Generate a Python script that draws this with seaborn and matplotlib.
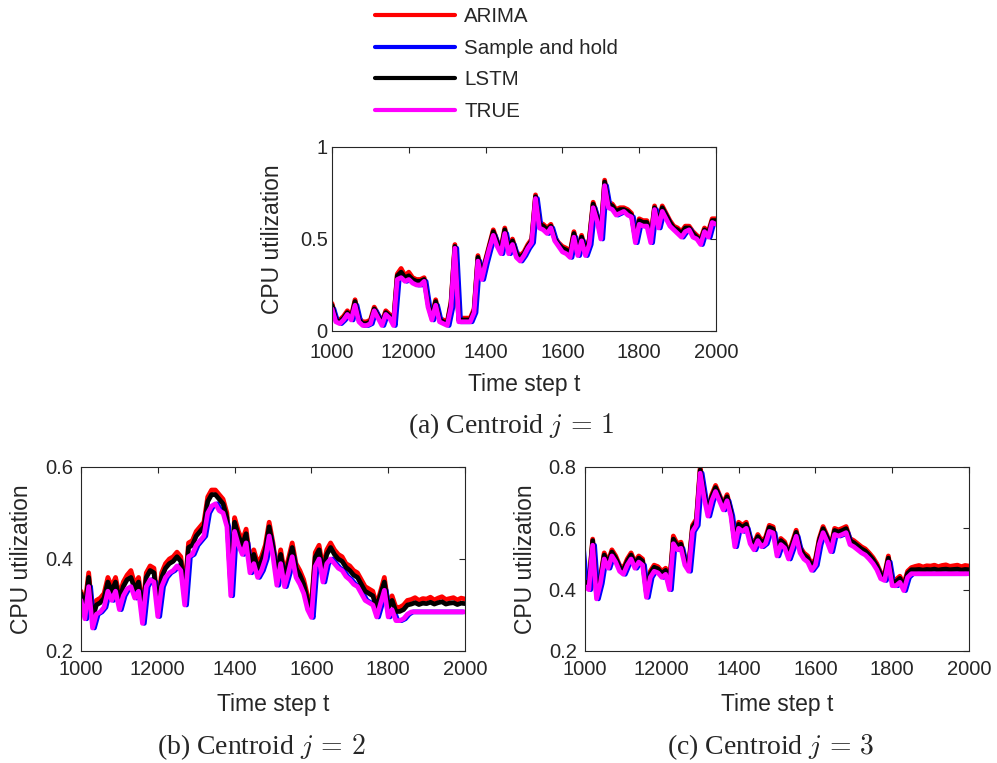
import matplotlib
matplotlib.use("Agg")
import matplotlib.pyplot as plt
import numpy as np
import pandas as pd
import seaborn as sns

# ---------------- data (one value every 10 steps) ----------------
time_steps = list(range(1000, 2001, 10))
# sample-and-hold readings lag the true trace by a few steps
hold_steps = list(range(995, 1996, 10))
x_ticks = [1000, 1200, 1400, 1600, 1800, 2000]
x_tick_labels = ["1000", "12000", "1400", "1600", "1800", "2000"]
methods = ["ARIMA", "Sample and hold", "LSTM", "TRUE"]

# (a) Centroid j = 1
true_a = [0.12, 0.05, 0.04, 0.06, 0.09, 0.06, 0.14, 0.05, 0.03, 0.03,
          0.04, 0.11, 0.07, 0.03, 0.09, 0.07, 0.03, 0.28, 0.29, 0.27,
          0.28, 0.26, 0.25, 0.25, 0.27, 0.13, 0.06, 0.14, 0.05, 0.04,
          0.03, 0.13, 0.45, 0.05, 0.05, 0.05, 0.05, 0.10, 0.38, 0.28,
          0.37, 0.45, 0.52, 0.46, 0.42, 0.53, 0.42, 0.47, 0.40, 0.38,
          0.41, 0.45, 0.48, 0.72, 0.56, 0.55, 0.53, 0.56, 0.49, 0.46,
          0.43, 0.42, 0.40, 0.51, 0.41, 0.49, 0.41, 0.47, 0.67, 0.60,
          0.50, 0.79, 0.67, 0.66, 0.63, 0.64, 0.65, 0.63, 0.62, 0.48,
          0.58, 0.57, 0.57, 0.48, 0.66, 0.56, 0.65, 0.61, 0.57, 0.55,
          0.53, 0.51, 0.54, 0.55, 0.51, 0.50, 0.47, 0.54, 0.51, 0.59,
          0.58]
arima_a = [0.15, 0.07, 0.06, 0.08, 0.11, 0.08, 0.17, 0.07, 0.05, 0.05,
           0.06, 0.13, 0.09, 0.05, 0.11, 0.09, 0.05, 0.31, 0.34, 0.30,
           0.32, 0.29, 0.28, 0.28, 0.29, 0.16, 0.08, 0.17, 0.07, 0.06,
           0.05, 0.16, 0.47, 0.07, 0.07, 0.07, 0.07, 0.12, 0.41, 0.31,
           0.39, 0.47, 0.55, 0.49, 0.45, 0.56, 0.45, 0.50, 0.43, 0.41,
           0.43, 0.47, 0.50, 0.74, 0.59, 0.58, 0.56, 0.58, 0.51, 0.48,
           0.46, 0.45, 0.43, 0.54, 0.44, 0.52, 0.44, 0.50, 0.70, 0.63,
           0.53, 0.82, 0.70, 0.69, 0.66, 0.67, 0.67, 0.66, 0.64, 0.51,
           0.61, 0.60, 0.60, 0.51, 0.68, 0.59, 0.68, 0.64, 0.60, 0.57,
           0.56, 0.54, 0.57, 0.57, 0.54, 0.52, 0.50, 0.56, 0.54, 0.61,
           0.61]
lstm_a = [0.14, 0.06, 0.05, 0.07, 0.10, 0.07, 0.16, 0.06, 0.04, 0.04,
          0.05, 0.12, 0.08, 0.04, 0.10, 0.08, 0.04, 0.30, 0.32, 0.29,
          0.30, 0.28, 0.27, 0.27, 0.28, 0.15, 0.07, 0.16, 0.06, 0.05,
          0.04, 0.15, 0.46, 0.06, 0.06, 0.06, 0.06, 0.11, 0.40, 0.30,
          0.38, 0.46, 0.54, 0.48, 0.44, 0.55, 0.44, 0.49, 0.42, 0.40,
          0.42, 0.46, 0.49, 0.73, 0.58, 0.57, 0.55, 0.57, 0.50, 0.47,
          0.45, 0.44, 0.42, 0.53, 0.43, 0.51, 0.43, 0.49, 0.69, 0.62,
          0.52, 0.81, 0.69, 0.68, 0.65, 0.66, 0.66, 0.65, 0.63, 0.50,
          0.60, 0.59, 0.59, 0.50, 0.67, 0.58, 0.67, 0.63, 0.59, 0.56,
          0.55, 0.53, 0.56, 0.56, 0.53, 0.51, 0.49, 0.55, 0.53, 0.60,
          0.60]
hold_a = [0.12, 0.12, 0.05, 0.04, 0.06, 0.09, 0.06, 0.14, 0.05, 0.03,
          0.03, 0.04, 0.11, 0.07, 0.03, 0.09, 0.07, 0.03, 0.28, 0.29,
          0.27, 0.28, 0.26, 0.25, 0.25, 0.27, 0.13, 0.06, 0.14, 0.05,
          0.04, 0.03, 0.13, 0.45, 0.05, 0.05, 0.05, 0.05, 0.10, 0.38,
          0.28, 0.37, 0.45, 0.52, 0.46, 0.42, 0.53, 0.42, 0.47, 0.40,
          0.38, 0.41, 0.45, 0.48, 0.72, 0.56, 0.55, 0.53, 0.56, 0.49,
          0.46, 0.43, 0.42, 0.40, 0.51, 0.41, 0.49, 0.41, 0.47, 0.67,
          0.60, 0.50, 0.79, 0.67, 0.66, 0.63, 0.64, 0.65, 0.63, 0.62,
          0.48, 0.58, 0.57, 0.57, 0.48, 0.66, 0.56, 0.65, 0.61, 0.57,
          0.55, 0.53, 0.51, 0.54, 0.55, 0.51, 0.50, 0.47, 0.54, 0.51,
          0.59]

# (b) Centroid j = 2
true_b = [0.31, 0.27, 0.34, 0.25, 0.28, 0.285, 0.295, 0.33, 0.31, 0.33,
          0.29, 0.32, 0.335, 0.34, 0.315, 0.33, 0.26, 0.34, 0.355, 0.35,
          0.275, 0.34, 0.36, 0.37, 0.375, 0.385, 0.375, 0.30, 0.405, 0.41,
          0.43, 0.44, 0.45, 0.50, 0.515, 0.52, 0.505, 0.50, 0.47, 0.32,
          0.46, 0.43, 0.41, 0.435, 0.37, 0.39, 0.36, 0.375, 0.40, 0.45,
          0.405, 0.343, 0.39, 0.34, 0.37, 0.405, 0.36, 0.345, 0.325, 0.29,
          0.273, 0.384, 0.40, 0.35, 0.39, 0.40, 0.39, 0.38, 0.375, 0.362,
          0.355, 0.345, 0.34, 0.325, 0.31, 0.305, 0.30, 0.274, 0.303, 0.332,
          0.274, 0.29, 0.266, 0.266, 0.27, 0.28, 0.285, 0.285, 0.285, 0.285,
          0.285, 0.285, 0.285, 0.285, 0.285, 0.285, 0.285, 0.285, 0.285, 0.285,
          0.285]
arima_b = [0.33, 0.30, 0.37, 0.28, 0.31, 0.315, 0.325, 0.36, 0.34, 0.36,
           0.32, 0.35, 0.365, 0.375, 0.345, 0.36, 0.29, 0.37, 0.385, 0.38,
           0.305, 0.37, 0.39, 0.40, 0.405, 0.415, 0.405, 0.33, 0.435, 0.44,
           0.46, 0.47, 0.48, 0.535, 0.55, 0.55, 0.54, 0.53, 0.50, 0.35,
           0.49, 0.46, 0.44, 0.465, 0.40, 0.42, 0.39, 0.405, 0.43, 0.48,
           0.435, 0.373, 0.42, 0.37, 0.40, 0.435, 0.39, 0.375, 0.355, 0.32,
           0.30, 0.414, 0.43, 0.38, 0.42, 0.435, 0.42, 0.41, 0.405, 0.39,
           0.385, 0.375, 0.37, 0.355, 0.34, 0.335, 0.33, 0.30, 0.33, 0.36,
           0.30, 0.32, 0.295, 0.295, 0.30, 0.31, 0.312, 0.316, 0.31, 0.314,
           0.313, 0.317, 0.311, 0.315, 0.318, 0.312, 0.314, 0.316, 0.311, 0.315,
           0.313]
lstm_b = [0.325, 0.29, 0.36, 0.27, 0.30, 0.305, 0.315, 0.35, 0.33, 0.35,
          0.31, 0.34, 0.355, 0.36, 0.335, 0.35, 0.28, 0.36, 0.375, 0.37,
          0.295, 0.36, 0.38, 0.39, 0.395, 0.405, 0.395, 0.32, 0.425, 0.43,
          0.45, 0.46, 0.47, 0.525, 0.54, 0.54, 0.53, 0.52, 0.49, 0.34,
          0.48, 0.45, 0.43, 0.455, 0.39, 0.41, 0.38, 0.395, 0.42, 0.47,
          0.425, 0.363, 0.41, 0.36, 0.39, 0.425, 0.38, 0.365, 0.345, 0.31,
          0.293, 0.404, 0.42, 0.37, 0.41, 0.425, 0.41, 0.40, 0.395, 0.382,
          0.375, 0.365, 0.36, 0.345, 0.33, 0.325, 0.32, 0.294, 0.323, 0.35,
          0.294, 0.31, 0.286, 0.286, 0.29, 0.30, 0.302, 0.305, 0.301, 0.304,
          0.303, 0.306, 0.302, 0.305, 0.307, 0.302, 0.304, 0.305, 0.301, 0.304,
          0.303]
hold_b = [0.31, 0.31, 0.27, 0.34, 0.25, 0.28, 0.285, 0.295, 0.33, 0.31,
          0.33, 0.29, 0.32, 0.335, 0.34, 0.315, 0.33, 0.26, 0.34, 0.355,
          0.35, 0.275, 0.34, 0.36, 0.37, 0.375, 0.385, 0.375, 0.30, 0.405,
          0.41, 0.43, 0.44, 0.45, 0.50, 0.515, 0.52, 0.505, 0.50, 0.47,
          0.32, 0.46, 0.43, 0.41, 0.435, 0.37, 0.39, 0.36, 0.375, 0.40,
          0.45, 0.405, 0.343, 0.39, 0.34, 0.37, 0.405, 0.36, 0.345, 0.325,
          0.29, 0.273, 0.384, 0.40, 0.35, 0.39, 0.40, 0.39, 0.38, 0.375,
          0.362, 0.355, 0.345, 0.34, 0.325, 0.31, 0.305, 0.30, 0.274, 0.303,
          0.332, 0.274, 0.29, 0.266, 0.266, 0.27, 0.28, 0.285, 0.285, 0.285,
          0.285, 0.285, 0.285, 0.285, 0.285, 0.285, 0.285, 0.285, 0.285, 0.285,
          0.285]

# (c) Centroid j = 3
true_c = [0.41, 0.40, 0.545, 0.37, 0.42, 0.50, 0.47, 0.51, 0.49, 0.46,
          0.45, 0.48, 0.50, 0.47, 0.49, 0.48, 0.375, 0.44, 0.46, 0.455,
          0.44, 0.45, 0.40, 0.55, 0.53, 0.535, 0.48, 0.46, 0.59, 0.61,
          0.78, 0.70, 0.64, 0.69, 0.72, 0.69, 0.66, 0.69, 0.64, 0.54,
          0.60, 0.59, 0.60, 0.55, 0.53, 0.56, 0.54, 0.55, 0.59, 0.585,
          0.51, 0.547, 0.536, 0.50, 0.536, 0.574, 0.52, 0.50, 0.49, 0.463,
          0.48, 0.547, 0.586, 0.558, 0.524, 0.58, 0.575, 0.58, 0.586, 0.547,
          0.54, 0.53, 0.52, 0.513, 0.50, 0.485, 0.465, 0.436, 0.43, 0.49,
          0.413, 0.413, 0.424, 0.397, 0.44, 0.452, 0.452, 0.452, 0.452, 0.452,
          0.452, 0.452, 0.452, 0.452, 0.452, 0.452, 0.452, 0.452, 0.452, 0.452,
          0.452]
arima_c = [0.43, 0.42, 0.565, 0.39, 0.44, 0.52, 0.49, 0.53, 0.51, 0.48,
           0.47, 0.50, 0.52, 0.49, 0.51, 0.50, 0.395, 0.46, 0.48, 0.475,
           0.46, 0.47, 0.42, 0.575, 0.55, 0.555, 0.50, 0.48, 0.61, 0.63,
           0.80, 0.72, 0.66, 0.71, 0.74, 0.71, 0.68, 0.71, 0.66, 0.56,
           0.62, 0.61, 0.62, 0.57, 0.55, 0.58, 0.56, 0.57, 0.61, 0.605,
           0.53, 0.567, 0.556, 0.52, 0.556, 0.594, 0.54, 0.52, 0.51, 0.483,
           0.50, 0.567, 0.606, 0.578, 0.544, 0.60, 0.595, 0.60, 0.606, 0.567,
           0.56, 0.55, 0.54, 0.533, 0.52, 0.505, 0.485, 0.456, 0.45, 0.51,
           0.433, 0.433, 0.444, 0.417, 0.46, 0.472, 0.476, 0.479, 0.474, 0.478,
           0.477, 0.480, 0.475, 0.479, 0.481, 0.476, 0.478, 0.480, 0.475, 0.479,
           0.477]
lstm_c = [0.425, 0.415, 0.56, 0.383, 0.433, 0.513, 0.483, 0.523, 0.503, 0.473,
          0.463, 0.493, 0.513, 0.483, 0.503, 0.493, 0.388, 0.453, 0.473, 0.468,
          0.453, 0.463, 0.413, 0.565, 0.543, 0.548, 0.493, 0.473, 0.603, 0.623,
          0.79, 0.713, 0.653, 0.703, 0.733, 0.703, 0.673, 0.703, 0.653, 0.553,
          0.613, 0.603, 0.613, 0.563, 0.543, 0.573, 0.553, 0.563, 0.603, 0.598,
          0.523, 0.56, 0.549, 0.513, 0.549, 0.587, 0.533, 0.513, 0.503, 0.476,
          0.493, 0.56, 0.599, 0.571, 0.537, 0.593, 0.588, 0.593, 0.599, 0.56,
          0.553, 0.543, 0.533, 0.526, 0.513, 0.498, 0.478, 0.449, 0.443, 0.503,
          0.426, 0.426, 0.437, 0.41, 0.453, 0.465, 0.465, 0.466, 0.464, 0.466,
          0.465, 0.467, 0.464, 0.466, 0.467, 0.465, 0.466, 0.467, 0.464, 0.466,
          0.465]
hold_c = [0.55, 0.41, 0.40, 0.545, 0.37, 0.42, 0.50, 0.47, 0.51, 0.49,
          0.46, 0.45, 0.48, 0.50, 0.47, 0.49, 0.48, 0.375, 0.44, 0.46,
          0.455, 0.44, 0.45, 0.40, 0.55, 0.53, 0.535, 0.48, 0.46, 0.59,
          0.61, 0.78, 0.70, 0.64, 0.69, 0.72, 0.69, 0.66, 0.69, 0.64,
          0.54, 0.60, 0.59, 0.60, 0.55, 0.53, 0.56, 0.54, 0.55, 0.59,
          0.585, 0.51, 0.547, 0.536, 0.50, 0.536, 0.574, 0.52, 0.50, 0.49,
          0.463, 0.48, 0.547, 0.586, 0.558, 0.524, 0.58, 0.575, 0.58, 0.586,
          0.547, 0.54, 0.53, 0.52, 0.513, 0.50, 0.485, 0.465, 0.436, 0.43,
          0.49, 0.413, 0.413, 0.424, 0.397, 0.44, 0.452, 0.452, 0.452, 0.452,
          0.452, 0.452, 0.452, 0.452, 0.452, 0.452, 0.452, 0.452, 0.452, 0.452,
          0.452]

# ---------------- styling ----------------
sns.set_theme(style="white")
plt.rcParams["font.family"] = ["Liberation Sans", "DejaVu Sans"]
plt.rcParams["mathtext.fontset"] = "cm"

palette = {"ARIMA": "#ff0000", "Sample and hold": "#0000ff",
           "LSTM": "#000000", "TRUE": "#ff00ff"}
axis_gray = "#262626"


def long_frame(arima, hold, lstm, true):
    parts = []
    for name, vals in zip(methods, [arima, hold, lstm, true]):
        assert len(vals) == len(time_steps)
        steps = hold_steps if name == "Sample and hold" else time_steps
        parts.append(pd.DataFrame({"t": steps, "cpu": vals, "method": name}))
    return pd.concat(parts, ignore_index=True)


W, H = 997, 763
fig = plt.figure(figsize=(W / 100, H / 100), dpi=100)
fig.patch.set_facecolor("white")

panels = [
    dict(rect=[332, 147, 716, 331], data=(arima_a, hold_a, lstm_a, true_a),
         ylim=(0, 1), yticks=[0, 0.5, 1], ylabels=["0", "0.5", "1"], xpad=9.0, ypad=3.0),
    dict(rect=[81, 467, 465, 651], data=(arima_b, hold_b, lstm_b, true_b),
         ylim=(0.2, 0.6), yticks=[0.2, 0.4, 0.6], ylabels=["0.2", "0.4", "0.6"], xpad=6.5, ypad=5.5),
    dict(rect=[585, 467, 969, 651], data=(arima_c, hold_c, lstm_c, true_c),
         ylim=(0.2, 0.8), yticks=[0.2, 0.4, 0.6, 0.8], ylabels=["0.2", "0.4", "0.6", "0.8"], xpad=6.5, ypad=6.0),
]

axes = []
for i, p in enumerate(panels):
    l, t, r, b = p["rect"]
    ax = fig.add_axes([l / W, 1 - b / H, (r - l) / W, (b - t) / H])
    df = long_frame(*p["data"])
    sns.lineplot(data=df, x="t", y="cpu", hue="method", hue_order=methods,
                 palette=palette, estimator=None, sort=False, linewidth=3.4,
                 ax=ax, legend=(i == 0))
    ax.set_xlim(1000, 2000)
    ax.set_ylim(*p["ylim"])
    ax.set_xticks(x_ticks)
    ax.set_xticklabels(x_tick_labels)
    ax.set_yticks(p["yticks"])
    ax.set_yticklabels(p["ylabels"])
    ax.tick_params(axis="both", direction="in", length=4, width=0.8, colors=axis_gray,
                   labelsize=14.5, top=True, right=True)
    ax.tick_params(axis="x", pad=p["xpad"])
    ax.tick_params(axis="y", pad=p["ypad"])
    for s in ax.spines.values():
        s.set_color(axis_gray)
        s.set_linewidth(0.8)
        s.set_visible(True)
    ax.set_xlabel("Time step t", fontsize=16.5, color=axis_gray, va="center")
    ax.set_ylabel("CPU utilization", fontsize=16.5, color=axis_gray, va="center")
    ax.xaxis.set_label_coords(0.5, -0.29)
    ax.yaxis.set_label_coords(-0.154, 0.5)
    axes.append(ax)

handles, labels = axes[0].get_legend_handles_labels()
axes[0].get_legend().remove()
leg = fig.legend(handles, labels, loc="upper left", bbox_to_anchor=(375 / W, 1 - 7 / H),
                 frameon=False, fontsize=14.8, handlelength=3.9, handletextpad=0.45,
                 labelspacing=0.62, borderpad=0, borderaxespad=0)
for ln in leg.get_lines():
    ln.set_linewidth(3)

cap_kw = dict(ha="center", va="center", fontsize=20, family=["Liberation Serif", "DejaVu Serif"])
fig.text(511 / W, 1 - 426 / H, r"(a) Centroid $j\,=\,1$", **cap_kw)
fig.text(261 / W, 1 - 747 / H, r"(b) Centroid $j\,=\,2$", **cap_kw)
fig.text(771 / W, 1 - 747 / H, r"(c) Centroid $j\,=\,3$", **cap_kw)

fig.savefig("out.png", dpi=100, facecolor="white")
